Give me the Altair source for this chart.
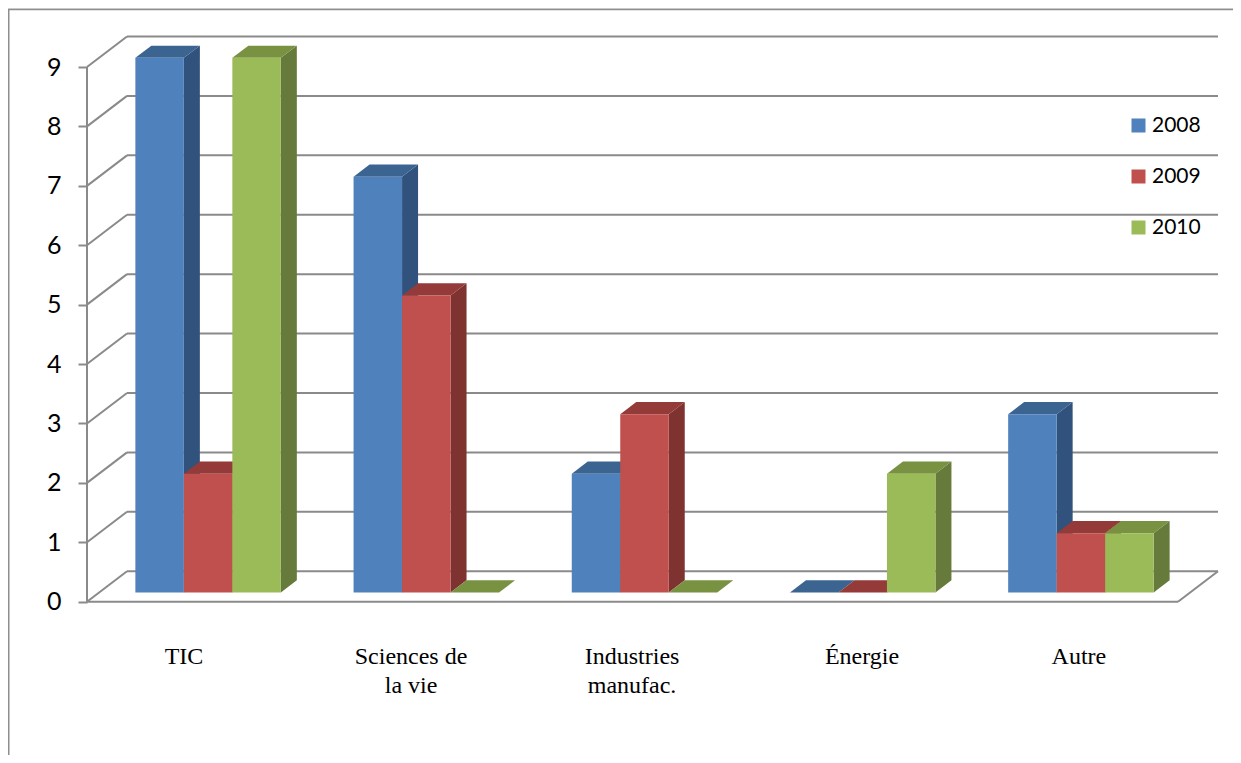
import altair as alt
import pandas as pd

categories = ["TIC", "Sciences de\nla vie", "Industries\nmanufac.", "Énergie", "Autre"]
label_pos = [0.4445, 1.485, 2.498, 3.552, 4.546]
series = ["2008", "2009", "2010"]
v2008 = [9, 7, 2, 0, 3]
v2009 = [2, 5, 3, 0, 1]
v2010 = [9, 0, 0, 2, 1]
levels = list(range(10))

front_colors = ["#4F81BD", "#C0504D", "#9BBB59"]
top_colors = ["#3C6491", "#943A38", "#789241"]
side_colors = ["#30527C", "#7F3331", "#657A3B"]
GRID = "#8A8A8A"
FRAME = "#8E8E8E"

W, H = 1225, 747
PX_U, PX_V = 218.2, 59.41          # pixels per category / per unit of value
X0, Y0 = 87 - 8, 601.7 - 8         # canvas position of the origin
DU, DV = 40 / PX_U, 30.5 / PX_V    # chart depth in scale units
BAR_W = 1 / 4.5
Z0, Z1 = 0.3, 0.7                  # bars occupy this part of the depth

xs = alt.Scale(domain=[-X0 / PX_U, (W - X0) / PX_U], nice=False, zero=False)
ys = alt.Scale(domain=[(Y0 - H) / PX_V, Y0 / PX_V], nice=False, zero=False)

front, side, top = [], [], []
for s_i, (s, vals) in enumerate(zip(series, [v2008, v2009, v2010])):
    for c_i, v in enumerate(vals):
        l = c_i + 0.75 * BAR_W + s_i * BAR_W
        r = l + BAR_W
        key = f"{c_i}-{s_i}"
        front.append(dict(series=s, l=l + Z0 * DU, r=r + Z0 * DU,
                          b=Z0 * DV, t=v + Z0 * DV))
        for z in (Z0, Z1):
            side.append(dict(series=s, id=key, u=r + z * DU,
                             b=z * DV, t=v + z * DV))
            top.append(dict(series=s, id=key, l=l + z * DU, r=r + z * DU,
                            t=v + z * DV))
front, side, top = map(pd.DataFrame, (front, side, top))

back = pd.DataFrame(dict(v=[x + DV for x in levels],
                         a=[DU] * len(levels), b=[5 + DU] * len(levels)))
diag = pd.DataFrame(
    [dict(id=f"l{v}", u=0, v=v) for v in levels]
    + [dict(id=f"l{v}", u=DU, v=v + DV) for v in levels]
    + [dict(id="f", u=5, v=0), dict(id="f", u=5 + DU, v=DV)]
)
base_lines = pd.DataFrame(dict(a=[0], b=[5], v=[0]))
vert = pd.DataFrame(dict(u=[0], lo=[0], hi=[levels[-1]]))
frame_data = pd.DataFrame(dict(v=[0]))
labels = pd.DataFrame(dict(u=label_pos, text=categories))
labels["v"] = (Y0 - (657 - 8)) / PX_V

y_ax = alt.Axis(
    values=levels, offset=-X0, domain=False, grid=False, tickSize=9,
    tickColor=GRID, tickWidth=2, labelPadding=17, format="d",
    labelFont="Lato", labelFontSize=25, labelColor="#000000")
X = lambda f: alt.X(f, type="quantitative", scale=xs, axis=None, title=None)
Y = lambda f: alt.Y(f, type="quantitative", scale=ys, axis=y_ax, title=None)

frame_top = alt.Chart(frame_data).mark_rule(color=FRAME, strokeWidth=1.5).encode(
    x=alt.value(0), x2=alt.value(W), y=alt.value(1.5))
frame_left = alt.Chart(frame_data).mark_rule(color=FRAME, strokeWidth=2).encode(
    x=alt.value(0.5), y=alt.value(1.5), y2=alt.value(H))

back_rules = alt.Chart(back).mark_rule(color=GRID, strokeWidth=2).encode(
    x=X("a"), x2="b", y=Y("v"))
front_rule = alt.Chart(base_lines).mark_rule(color=GRID, strokeWidth=2).encode(
    x=X("a"), x2="b", y=Y("v"))
vert_rule = alt.Chart(vert).mark_rule(color=GRID, strokeWidth=2).encode(
    x=X("u"), y=Y("lo"), y2="hi")
diag_lines = alt.Chart(diag).mark_line(color=GRID, strokeWidth=2).encode(
    x=X("u"), y=Y("v"), detail="id:N")

side_l = alt.Chart(side).mark_area(orient="vertical", opacity=1).encode(
    x=X("u"), y=Y("t"), y2="b", detail="id:N",
    color=alt.Color("series:N", legend=None,
                    scale=alt.Scale(domain=series, range=side_colors)))
top_l = alt.Chart(top).mark_area(orient="horizontal", opacity=1).encode(
    y=Y("t"), x=X("l"), x2="r", detail="id:N",
    color=alt.Color("series:N", legend=None,
                    scale=alt.Scale(domain=series, range=top_colors)))
front_l = alt.Chart(front).mark_rect().encode(
    x=X("l"), x2="r", y=Y("t"), y2="b",
    color=alt.Color("series:N", title=None,
                    scale=alt.Scale(domain=series, range=front_colors),
                    legend=alt.Legend(orient="none", legendX=1120, legendY=107,
                                      symbolType="square", symbolSize=196,
                                      symbolStrokeWidth=0, rowPadding=29,
                                      labelFont="Lato", labelFontSize=21,
                                      labelColor="#000000", labelOffset=3,
                                      padding=0)))
text_l = alt.Chart(labels).mark_text(
    font="Liberation Serif", fontSize=24, color="#000000", align="center",
    baseline="middle", lineBreak="\n", lineHeight=29
).encode(x=X("u"), y=Y("v"), text="text:N")

chart = alt.layer(
    frame_top, frame_left, back_rules, diag_lines, vert_rule, front_rule,
    side_l, top_l, front_l, text_l
).resolve_scale(color="independent").properties(
    width=W, height=H, padding=0,
    autosize=alt.AutoSizeParams(type="none"),
).configure_view(stroke=None).configure(background="#FFFFFF")

chart.save("out.html", embed_options={"renderer": "svg", "actions": False})
